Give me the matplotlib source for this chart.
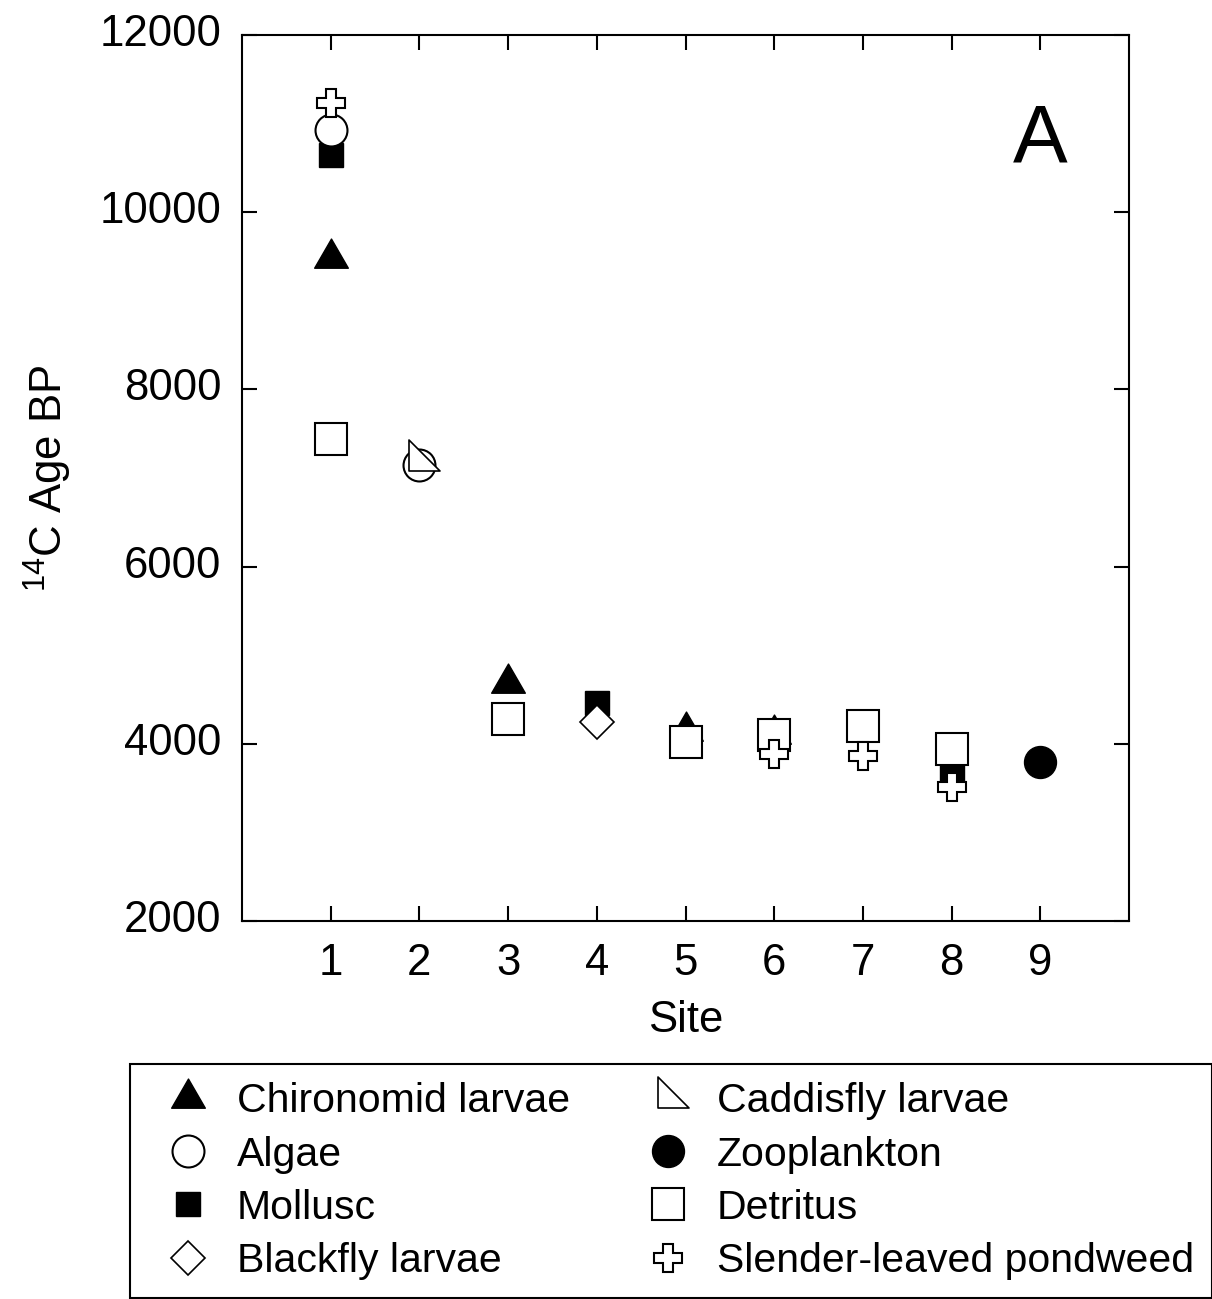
import numpy as np
import matplotlib
matplotlib.use("Agg")
import matplotlib.pyplot as plt
from matplotlib.path import Path
from matplotlib.transforms import ScaledTranslation

plt.rcParams['font.family'] = ['Liberation Sans', 'DejaVu Sans']
plt.rcParams['mathtext.fontset'] = 'custom'
plt.rcParams['mathtext.rm'] = 'Liberation Sans'
plt.rcParams['mathtext.it'] = 'Liberation Sans:italic'
plt.rcParams['mathtext.bf'] = 'Liberation Sans:bold'

# ---- data ----
chironomid_sites = [1, 3, 5, 6]
chironomid_ages = [9480, 4690, 4150, 4110]

algae_sites = [1, 2]
algae_ages = [10930, 7150]

mollusc_sites = [1, 4, 8]
mollusc_ages = [10640, 4460, 3720]

blackfly_sites = [4]
blackfly_ages = [4250]

caddisfly_sites = [2]
caddisfly_ages = [7190]

zooplankton_sites = [9]
zooplankton_ages = [3790]

detritus_sites = [1, 3, 5, 6, 7, 8]
detritus_ages = [7435, 4280, 4020, 4100, 4200, 3940]

pondweed_sites = [1, 6, 7, 8]
pondweed_ages = [11230, 3890, 3860, 3510]

site_ticks = [1, 2, 3, 4, 5, 6, 7, 8, 9]
age_ticks = [2000, 4000, 6000, 8000, 10000, 12000]

# ---- custom markers ----
s3 = np.sqrt(3)
tri_up = Path([(-1, -1 / s3), (1, -1 / s3), (0, 2 / s3), (-1, -1 / s3)],
              [Path.MOVETO, Path.LINETO, Path.LINETO, Path.CLOSEPOLY])
right_tri = Path([(-1 / 3, 2 / 3), (-1 / 3, -1 / 3), (2 / 3, -1 / 3), (-1 / 3, 2 / 3)],
                 [Path.MOVETO, Path.LINETO, Path.LINETO, Path.CLOSEPOLY])

fig = plt.figure(figsize=(12.12, 12.99), dpi=100)
ax = fig.add_axes([242 / 1212, 1 - 921 / 1299, (1129 - 242) / 1212, (921 - 35) / 1299])

mew = 1.5
series = [
    # label, x, y, marker, size, face, edge width, zorder
    ("Chironomid larvae", chironomid_sites, chironomid_ages, tri_up, 28, 'black', 1.0, 3),
    ("Algae", algae_sites, algae_ages, 'o', 23, 'white', mew, 5),
    ("Mollusc", mollusc_sites, mollusc_ages, 's', 17.5, 'black', 1.0, 4),
    ("Blackfly larvae", blackfly_sites, blackfly_ages, 'D', 17.5, 'white', 1.2, 6),
    ("Caddisfly larvae", caddisfly_sites, caddisfly_ages, right_tri, 30, 'white', 1.2, 7),
    ("Zooplankton", zooplankton_sites, zooplankton_ages, 'o', 23, 'black', 1.0, 8),
    ("Detritus", detritus_sites, detritus_ages, 's', 22.5, 'white', mew, 9),
    ("Slender-leaved pondweed", pondweed_sites, pondweed_ages, 'P', 20.5, 'white', mew, 10),
]

handles = []
for label, xs, ys, mk, ms, fc, lw, z in series:
    h, = ax.plot(xs, ys, linestyle='none', marker=mk, markersize=ms,
                 markerfacecolor=fc, markeredgecolor='black', markeredgewidth=lw,
                 zorder=z, label=label, clip_on=False)
    handles.append(h)

ax.set_xlim(0, 10)
ax.set_ylim(2000, 12000)
ax.set_xticks(site_ticks)
ax.set_yticks(age_ticks)
ax.set_xticklabels([str(s) for s in site_ticks])
ax.set_yticklabels([str(a) for a in age_ticks])

ax.tick_params(axis='both', which='major', direction='in', length=11, width=1.5,
               top=True, right=True, labelsize=31.5, colors='black')
ax.tick_params(axis='x', pad=16)
ax.tick_params(axis='y', pad=15)
for sp in ax.spines.values():
    sp.set_linewidth(1.5)
    sp.set_color('black')

# ytick labels sit slightly above their ticks in the reference
shift = ScaledTranslation(0, 5 / 100, fig.dpi_scale_trans)
for lab in ax.get_yticklabels():
    lab.set_transform(lab.get_transform() + shift)

ax.set_xlabel("Site", fontsize=31.5, labelpad=11)
ax.set_ylabel(r"$^{\mathrm{14}}$C Age BP", fontsize=31.5, labelpad=18)

ax.text(0.9, 0.881, "A", transform=ax.transAxes, fontsize=59,
        ha='center', va='center')

leg = fig.legend(handles=handles, loc='upper left',
                 bbox_to_anchor=(130 / 1212, 1 - 1064 / 1299),
                 bbox_transform=fig.transFigure, ncol=2,
                 fontsize=29.5, frameon=True, fancybox=False, shadow=False,
                 framealpha=1, edgecolor='black', borderaxespad=0,
                 borderpad=0.45, handlelength=1.94, handletextpad=0.22,
                 columnspacing=1.42, labelspacing=0.37, numpoints=1,
                 markerscale=1.0)
leg.get_frame().set_linewidth(1.5)

fig.savefig("out.png", dpi=100, facecolor='white')
